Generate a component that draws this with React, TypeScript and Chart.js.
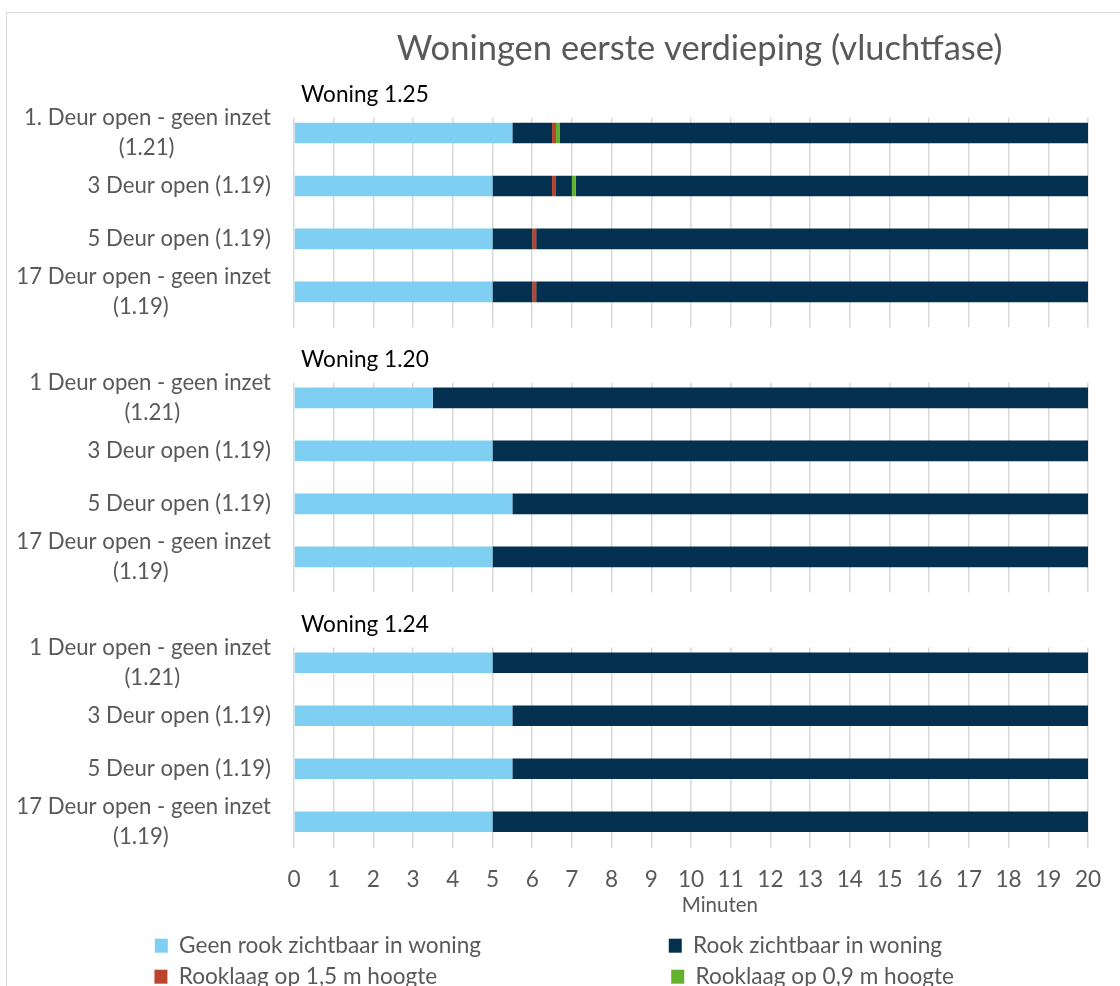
import React, { useEffect, useRef } from 'react';
import { Chart, registerables } from 'chart.js';

Chart.register(...registerables);

// ---------- data ----------
const chartTitle = 'Woningen eerste verdieping (vluchtfase)';
const xAxisTitle = 'Minuten';

const categories: (string | string[])[] = [
  ['1. Deur open - geen inzet', '(1.21)'],
  '3 Deur open (1.19)',
  '5 Deur open (1.19)',
  ['17 Deur open - geen inzet', '(1.19)'],
  '',
  ['1 Deur open - geen inzet', '(1.21)'],
  '3 Deur open (1.19)',
  '5 Deur open (1.19)',
  ['17 Deur open - geen inzet', '(1.19)'],
  '',
  ['1 Deur open - geen inzet', '(1.21)'],
  '3 Deur open (1.19)',
  '5 Deur open (1.19)',
  ['17 Deur open - geen inzet', '(1.19)'],
];

const groupTitles = ['Woning 1.25', 'Woning 1.20', 'Woning 1.24'];
const groupFirst = [0, 5, 10];
const groupLast = [3, 8, 13];

const seriesNames = [
  'Geen rook zichtbaar in woning',
  'Rook zichtbaar in woning',
  'Rooklaag op 1,5 m hoogte',
  'Rooklaag op 0,9 m hoogte',
];

// segments in stacking order (minutes)
const geenRook = [5.5, 5, 5, 5, null, 3.5, 5, 5.5, 5, null, 5, 5.5, 5.5, 5];
const rookDeel1 = [1.0, 1.5, 1.0, 1.0, null, 16.5, 15, 14.5, 15, null, 15, 14.5, 14.5, 15];
const rooklaag15 = [0.1, 0.1, 0.1, 0.1, null, 0, 0, 0, 0, null, 0, 0, 0, 0];
const rookDeel2 = [0, 0.4, 13.9, 13.9, null, 0, 0, 0, 0, null, 0, 0, 0, 0];
const rooklaag09 = [0.1, 0.1, 0, 0, null, 0, 0, 0, 0, null, 0, 0, 0, 0];
const rookDeel3 = [13.3, 12.9, 0, 0, null, 0, 0, 0, 0, null, 0, 0, 0, 0];

const xMin = 0;
const xMax = 20;
const xStep = 1;

// ---------- styling ----------
const FAMILY = 'Lato';
const LIGHT = '#7fcff3';
const NAVY = '#04304f';
const RED = '#bb4431';
const GREEN = '#62b22e';
const GREY_TEXT = '#595959';

const W = 1120;
const H = 998;
const YAXIS_FS = 22.2;
const XAXIS_FS = 22.6;
const TITLE_FS = 34.5;
const XTITLE_FS = 20.5;
const LEG_FS = 22.6;
const LEG_PAD = 8.4;
const LEG_BOX = 13;

const NBSP = '\u00A0';

function measure(text: string, font: string): number {
  const c = document.createElement('canvas').getContext('2d')!;
  c.font = font;
  return c.measureText(text).width;
}

function padRight(text: string, target: number, font: string): string {
  const w = measure(text, font);
  const sp = measure(NBSP, font) || 1;
  const n = Math.max(0, Math.round((target - w) / sp));
  return text + NBSP.repeat(n);
}

function shiftRight(text: string, shift: number, font: string): string {
  const sp = measure(NBSP, font) || 1;
  return NBSP.repeat(Math.max(0, Math.round((2 * shift) / sp))) + text;
}

const groupPlugin = {
  id: 'groupBands',
  beforeDatasetsDraw(chart: any) {
    const { ctx, chartArea: ca, scales } = chart;
    const y = scales.y;
    const step = y.getPixelForValue(1) - y.getPixelForValue(0);
    ctx.save();
    ctx.fillStyle = '#ffffff';
    let prevEnd = ca.top;
    groupFirst.forEach((f, g) => {
      const start = y.getPixelForValue(f) - 0.29 * step;
      const end = g === groupFirst.length - 1 ? ca.bottom : y.getPixelForValue(groupLast[g]) + 0.67 * step;
      if (start > prevEnd) ctx.fillRect(ca.left - 3, prevEnd, ca.right - ca.left + 6, start - prevEnd);
      prevEnd = end;
    });
    ctx.fillStyle = '#000000';
    ctx.font = `${XAXIS_FS}px ${FAMILY}`;
    ctx.textAlign = 'left';
    ctx.textBaseline = 'middle';
    groupTitles.forEach((t, g) => {
      ctx.fillText(t, ca.left + 7, y.getPixelForValue(groupFirst[g]) - 0.72 * step);
    });
    ctx.restore();
  },
};

export default function App() {
  const ref = useRef<HTMLCanvasElement | null>(null);

  useEffect(() => {
    if (!ref.current) return;
    const yFont = `${YAXIS_FS}px ${FAMILY}`;
    const legFont = `${LEG_FS}px ${FAMILY}`;
    const titleFont = `${TITLE_FS}px ${FAMILY}`;
    const xTitleFont = `${XTITLE_FS}px ${FAMILY}`;

    // y labels: center the second line under the first (Excel style)
    const yLabels = categories.map((c) => {
      if (Array.isArray(c)) {
        const w1 = measure(c[0], yFont);
        const w2 = measure(c[1], yFont);
        return [c[0], padRight(c[1], w2 + (w1 - w2) / 2, yFont)];
      }
      return c;
    });

    // legend in two columns
    const half = LEG_FS / 2;
    const box1 = 155;
    const box2 = 671;
    const A = box2 - box1;
    const nat2 = Math.max(measure(seriesNames[1], legFont), measure(seriesNames[3], legFont));
    const Bmin = LEG_BOX + half + nat2 + LEG_PAD;
    const B = Math.max(Bmin, LEG_PAD + W - A - 2 * box1);
    const T1 = A - LEG_PAD - LEG_BOX - half;
    const T2 = B - LEG_PAD - LEG_BOX - half;
    const legendTargets = [T1, T2, T1, T2];

    const titleText = shiftRight(chartTitle, 10, titleFont);
    const xTitleText = shiftRight(xAxisTitle, 28, xTitleFont);

    const mk = (label: string, data: any[], color: string, inLegend: boolean) => ({
      label,
      data,
      backgroundColor: color,
      borderWidth: 0,
      inLegend,
    });

    const chart = new Chart(ref.current, {
      type: 'bar',
      data: {
        labels: yLabels as any,
        datasets: [
          mk(seriesNames[0], geenRook, LIGHT, true),
          mk(seriesNames[1], rookDeel1, NAVY, true),
          mk(seriesNames[2], rooklaag15, RED, true),
          mk(seriesNames[1], rookDeel2, NAVY, false),
          mk(seriesNames[3], rooklaag09, GREEN, true),
          mk(seriesNames[1], rookDeel3, NAVY, false),
        ] as any,
      },
      options: {
        indexAxis: 'y',
        responsive: false,
        animation: false,
        devicePixelRatio: 1,
        datasets: {
          bar: { categoryPercentage: 1, barPercentage: 0.39 },
        },
        layout: { padding: 0 },
        scales: {
          x: {
            stacked: true,
            min: xMin,
            max: xMax,
            position: 'bottom',
            ticks: {
              stepSize: xStep,
              color: GREY_TEXT,
              font: { family: FAMILY, size: XAXIS_FS },
              padding: 18,
              maxRotation: 0,
              autoSkip: false,
            },
            grid: { color: '#d9d9d9', lineWidth: 1.5, drawTicks: false },
            border: { display: false },
            title: {
              display: true,
              text: xTitleText,
              color: GREY_TEXT,
              font: { family: FAMILY, size: XTITLE_FS },
              padding: { top: 0, bottom: 8.3 },
            },
            afterFit: (s: any) => {
              s.height = 77.8;
              s.paddingRight = 32;
              s.paddingLeft = 0;
            },
          } as any,
          y: {
            stacked: true,
            ticks: {
              color: GREY_TEXT,
              font: { family: FAMILY, size: YAXIS_FS, lineHeight: 1.35 },
              padding: 23,
              autoSkip: false,
            },
            grid: { display: false, drawTicks: false },
            border: { display: false },
            afterFit: (s: any) => {
              s.width = 294;
            },
          } as any,
        },
        plugins: {
          title: {
            display: true,
            text: titleText,
            fullSize: false,
            color: GREY_TEXT,
            font: { family: FAMILY, size: TITLE_FS, weight: 'normal' as any, lineHeight: 1.2 },
            padding: { top: 28.3, bottom: 36.8 },
          },
          legend: {
            display: true,
            position: 'bottom',
            labels: {
              color: GREY_TEXT,
              font: { family: FAMILY, size: LEG_FS },
              boxWidth: LEG_BOX,
              boxHeight: 14,
              padding: LEG_PAD,
              generateLabels: (ch: any) => {
                const base = (Chart.defaults.plugins.legend.labels as any).generateLabels(ch);
                const kept = base.filter((it: any) => (ch.data.datasets[it.datasetIndex] as any).inLegend);
                return kept.map((it: any, i: number) => ({
                  ...it,
                  text: padRight(it.text, legendTargets[i], legFont),
                  lineWidth: 0,
                  strokeStyle: 'rgba(0,0,0,0)',
                }));
              },
            },
          },
          tooltip: { enabled: false },
        },
      },
      plugins: [groupPlugin],
    });

    return () => chart.destroy();
  }, []);

  return (
    <div style={{ position: 'fixed', left: 0, top: 0, right: 0, bottom: 0, overflow: 'hidden', background: '#ffffff' }}>
      <div
        style={{
          position: 'absolute',
          left: 6,
          top: 12,
          width: 1300,
          height: 1200,
          border: '1px solid #d9d9d9',
        }}
      />
      <canvas
        ref={ref}
        width={W}
        height={H}
        style={{ position: 'absolute', left: 0, top: 0, width: W, height: H, display: 'block' }}
      />
    </div>
  );
}
